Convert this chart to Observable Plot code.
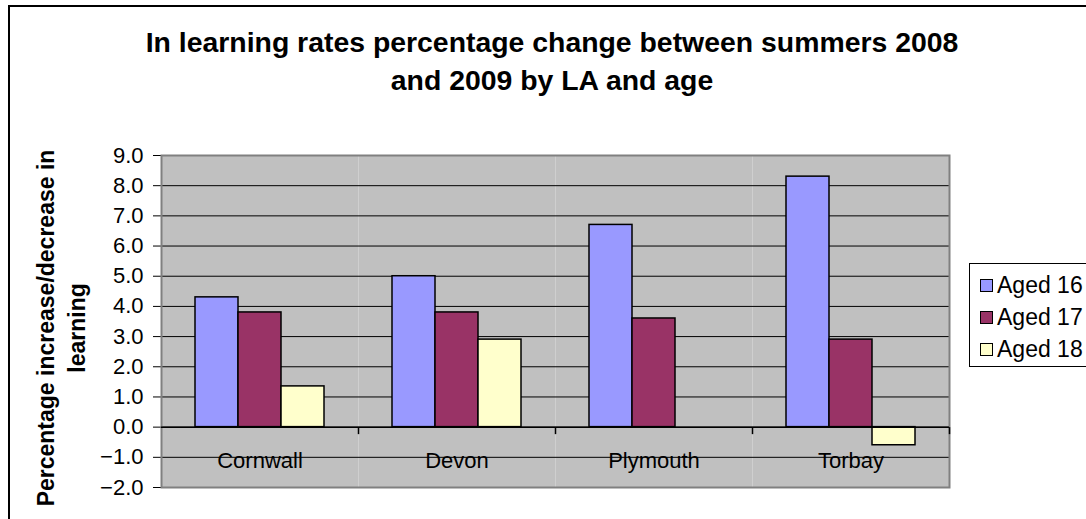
<!DOCTYPE html>
<html>
<head>
<meta charset="utf-8">
<script src="https://cdn.jsdelivr.net/npm/d3@7"></script>
<script src="https://cdn.jsdelivr.net/npm/@observablehq/plot@0.6"></script>
<style>
  html, body { margin: 0; padding: 0; background: #fff; overflow: hidden; }
  #wrap { position: relative; width: 1086px; height: 519px; overflow: hidden; font-family: "Liberation Sans", Arial, sans-serif; color: #000; }
  #chart { position: absolute; left: 0; top: 0; }
  #title { position: absolute; left: 0; top: 24px; width: 1104px; text-align: center; font-weight: bold; font-size: 28.4px; line-height: 37.5px; }
  #ytitle { position: absolute; left: -128px; top: 297px; width: 380px; height: 62px; text-align: center; font-weight: bold; font-size: 23px; line-height: 31px; transform: rotate(-90deg); transform-origin: 50% 50%; }
  #legend { position: absolute; left: 969px; top: 263px; width: 140px; height: 104px; border: 1px solid #000; box-sizing: border-box; background: #fff; }
  .item { position: absolute; left: 10px; height: 26px; display: flex; align-items: center; font-size: 23px; white-space: nowrap; }
  .sw { width: 11px; height: 11px; border: 1px solid #000; margin-right: 4px; flex: none; }
  #border { position: absolute; left: 8px; top: 5px; width: 1200px; height: 600px; border: 2px solid #000; box-sizing: border-box; pointer-events: none; }
</style>
</head>
<body>
<div id="wrap">
  <div id="chart"></div>
  <div id="title">In learning rates percentage change between summers 2008<br>and 2009 by LA and age</div>
  <div id="ytitle">Percentage increase/decrease in<br>learning</div>
  <div id="legend"></div>
  <div id="border"></div>
</div>
<script>
// ---- data ----
const LAs = ["Cornwall", "Devon", "Plymouth", "Torbay"];
const ages = ["Aged 16", "Aged 17", "Aged 18"];
const aged16 = [4.3, 5.0, 6.7, 8.3];
const aged17 = [3.8, 3.8, 3.6, 2.9];
const aged18 = [1.35, 2.9, null, -0.6];
const yTicks = [-2, -1, 0, 1, 2, 3, 4, 5, 6, 7, 8, 9];
const colors = ["#9999FF", "#993366", "#FFFFCC"];

const series = [aged16, aged17, aged18];
const rows = LAs.flatMap((la, i) => ages.map((age, j) => ({LA: la, age, value: series[j][i]})))
  .filter(d => d.value != null);
const gridTicks = yTicks.filter(t => t > -2 && t < 9);

// short downward tick used for the category-boundary tick marks
const tickDown = {draw(context) { context.moveTo(0, 0); context.lineTo(0, 7); }};

const chart = Plot.plot({
  width: 1086,
  height: 519,
  marginLeft: 161,
  marginRight: 137,
  marginTop: 155,
  marginBottom: 32,
  style: {background: "transparent", fontFamily: "'Liberation Sans', Arial, sans-serif", fontSize: "22px", color: "#000", overflow: "visible"},
  fx: {domain: LAs, padding: 0, axis: null},
  x: {domain: ages, paddingInner: 0, paddingOuter: 0.75, axis: null},
  y: {domain: [-2, 9], ticks: yTicks, tickFormat: ".1f", tickSize: 8, tickPadding: 10, label: null, line: true},
  color: {domain: ages, range: colors},
  marks: [
    Plot.frame({fill: "#C0C0C0", stroke: "none"}),
    Plot.ruleY(gridTicks, {stroke: "#000", strokeWidth: 1}),
    Plot.frame({facet: "super", stroke: "#808080", strokeWidth: 2}),
    Plot.barY(rows, {fx: "LA", x: "age", y: "value", fill: "age", stroke: "#000", strokeWidth: 1.5}),
    Plot.ruleY([0], {stroke: "#000", strokeWidth: 1.5}),
    Plot.dot(LAs, {fx: d => d, y: () => 0, frameAnchor: "right", symbol: tickDown, stroke: "#000", fill: "none", strokeWidth: 1.5}),
    Plot.text(LAs, {fx: d => d, y: () => 0, text: d => d, dy: 34, fontSize: 22, fill: "#000"})
  ]
});
document.getElementById("chart").appendChild(chart);

// legend
const legend = document.getElementById("legend");
ages.forEach((age, j) => {
  const item = document.createElement("div");
  item.className = "item";
  item.style.top = (8 + j * 32) + "px";
  const sw = document.createElement("span");
  sw.className = "sw";
  sw.style.background = colors[j];
  item.appendChild(sw);
  item.appendChild(document.createTextNode(age));
  legend.appendChild(item);
});
</script>
</body>
</html>
